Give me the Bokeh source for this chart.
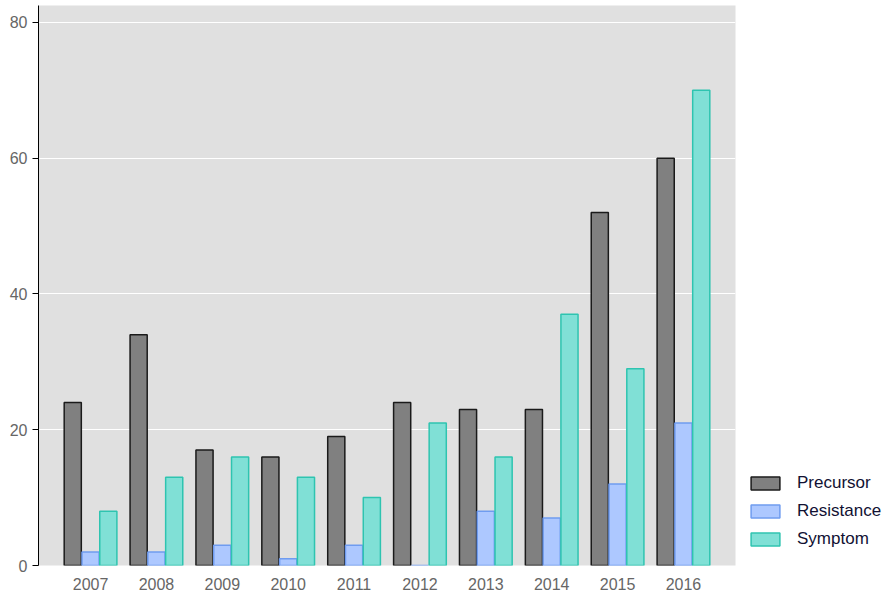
from bokeh.plotting import figure
from bokeh.models import ColumnDataSource, Legend, LegendItem, FactorRange
from bokeh.transform import dodge
from bokeh.embed import file_html
from bokeh.resources import INLINE

years = ["2007","2008","2009","2010","2011","2012","2013","2014","2015","2016"]
precursor = [24,34,17,16,19,24,23,23,52,60]
resistance = [2,2,3,1,3,0,8,7,12,21]
symptom = [8,13,16,13,10,21,16,37,29,70]

src = ColumnDataSource(dict(x=years, p=precursor, r=resistance, s=symptom))
p = figure(x_range=FactorRange(*years, range_padding=0.29, range_padding_units="absolute"),
           y_range=(0, 82.5),
           frame_width=697, frame_height=560,
           output_backend="svg", toolbar_location=None,
           min_border_left=38, min_border_right=0, min_border_top=5, min_border_bottom=20)
p.background_fill_color = "#e0e0e0"
p.border_fill_color = "white"
p.outline_line_color = None
font = "Liberation Sans"
w = 0.26
r1 = p.vbar(x=dodge("x", -0.27, range=p.x_range), top="p", width=w, source=src,
            fill_color="#808080", line_color="#1a1a1a", line_width=1.5)
r2 = p.vbar(x=dodge("x", 0.0, range=p.x_range), top="r", width=w, source=src,
            fill_color="#adc8ff", line_color="#6f9cf0", line_width=1.5)
r3 = p.vbar(x=dodge("x", 0.27, range=p.x_range), top="s", width=w, source=src,
            fill_color="#80e0d6", line_color="#2ec4b0", line_width=1.5)
p.xgrid.grid_line_color = None
p.ygrid.grid_line_color = "white"
p.ygrid.grid_line_width = 1.2
p.yaxis.ticker = [0,20,40,60,80]
p.yaxis.axis_line_color = "black"
p.yaxis.major_tick_line_color = "black"
p.yaxis.major_tick_out = 6
p.yaxis.major_tick_in = 0
p.yaxis.minor_tick_line_color = None
p.xaxis.axis_line_color = None
p.xaxis.major_tick_line_color = None
for ax in (p.xaxis, p.yaxis):
    ax.major_label_text_font = font
    ax.major_label_text_font_size = "16px"
    ax.major_label_text_color = "#666666"
p.xaxis.major_label_standoff = 6
legend = Legend(items=[LegendItem(label="Precursor", renderers=[r1]),
                       LegendItem(label="Resistance", renderers=[r2]),
                       LegendItem(label="Symptom", renderers=[r3])],
                location=(12, 16), margin=0, padding=10,
                background_fill_alpha=0, border_line_color=None,
                label_text_font=font, label_text_font_size="17px", label_text_color="#111133",
                glyph_width=36, glyph_height=16, spacing=8, label_standoff=14)
p.add_layout(legend, "right")
open("out.html", "w").write(file_html(p, INLINE))
